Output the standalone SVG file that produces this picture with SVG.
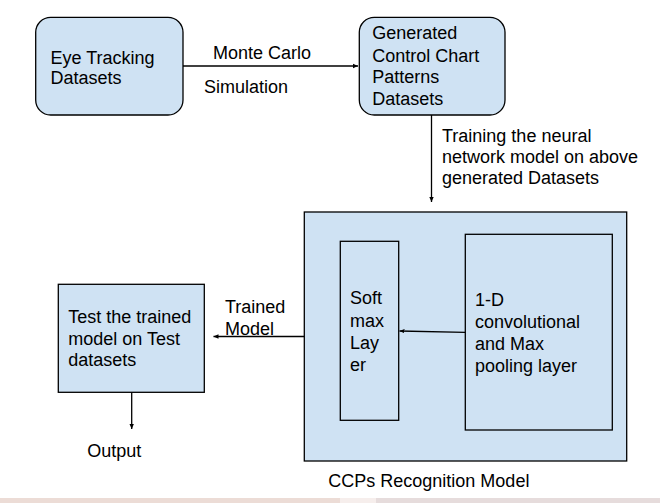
<svg xmlns="http://www.w3.org/2000/svg" width="660" height="503" viewBox="0 0 660 503">
<style>
.box{fill:#cfe2f3;stroke:#000;stroke-width:1.3}
.t{font-family:"Liberation Sans",Arial,sans-serif;font-size:18px;fill:#000}
.ln{stroke:#000;stroke-width:1.3;fill:none}
</style>
<defs>
<marker id="ah" markerWidth="6" markerHeight="6" refX="5" refY="3" orient="auto" markerUnits="userSpaceOnUse">
<path d="M0,0.8 L5,3 L0,5.2 Z" fill="#000"/>
</marker>
</defs>
<rect x="0" y="0" width="660" height="503" fill="#fff"/>
<rect x="0" y="498" width="340" height="5" fill="#ecdcd6"/>
<rect x="340" y="498" width="36" height="5" fill="#f6eeec"/>
<rect x="376" y="498" width="284" height="5" fill="#e6dcdc"/>
<g id="eye">
<rect class="box" x="35.7" y="17.3" width="147.3" height="97.7" rx="15" ry="15"/>
<text class="t" x="50.5" y="63.5">Eye Tracking</text>
<text class="t" x="50.5" y="84">Datasets</text>
</g>
<g id="generated">
<rect class="box" x="359.3" y="17.3" width="145.7" height="97.7" rx="15" ry="15"/>
<text class="t" x="372.3" y="39">Generated</text>
<text class="t" x="372.3" y="61.5">Control Chart</text>
<text class="t" x="372.3" y="83">Patterns</text>
<text class="t" x="372.3" y="104.5">Datasets</text>
</g>
<g id="ccps">
<rect class="box" x="304.3" y="212" width="322.4" height="249"/>
<text class="t" x="328.3" y="487.3">CCPs Recognition Model</text>
</g>
<g id="softmax">
<rect class="box" x="340.3" y="241.3" width="58.4" height="179"/>
<text class="t" x="350" y="304.3">Soft</text>
<text class="t" x="350" y="326.5">max</text>
<text class="t" x="350" y="349">Lay</text>
<text class="t" x="350" y="370.7">er</text>
</g>
<g id="conv">
<rect class="box" x="465.3" y="234.3" width="147" height="195.7"/>
<text class="t" x="475" y="306">1-D</text>
<text class="t" x="475" y="328.3">convolutional</text>
<text class="t" x="475" y="350">and Max</text>
<text class="t" x="475" y="371.7">pooling layer</text>
</g>
<g id="test">
<rect class="box" x="58.3" y="284.3" width="146" height="108"/>
<text class="t" x="68.3" y="323.3">Test the trained</text>
<text class="t" x="68.3" y="344.5">model on Test</text>
<text class="t" x="68.3" y="366">datasets</text>
</g>
<g id="output">
<text class="t" x="87.3" y="456.7">Output</text>
</g>
<g id="connectors">
<line class="ln" x1="183" y1="66" x2="358" y2="66" marker-end="url(#ah)"/>
<text class="t" x="213" y="59">Monte Carlo</text>
<text class="t" x="204" y="93">Simulation</text>
<line class="ln" x1="431.5" y1="115" x2="431.5" y2="202" marker-end="url(#ah)"/>
<text class="t" x="442" y="142.3">Training the neural</text>
<text class="t" x="442" y="163.3">network model on above</text>
<text class="t" x="442" y="184.3">generated Datasets</text>
<line class="ln" x1="465.3" y1="332.3" x2="399.5" y2="331" marker-end="url(#ah)"/>
<line class="ln" x1="304.3" y1="336.5" x2="213.5" y2="336.5" marker-end="url(#ah)"/>
<text class="t" x="225" y="312.7">Trained</text>
<text class="t" x="225" y="334.5">Model</text>
<line class="ln" x1="131.7" y1="392.3" x2="131.7" y2="429" marker-end="url(#ah)"/>
</g>
</svg>
